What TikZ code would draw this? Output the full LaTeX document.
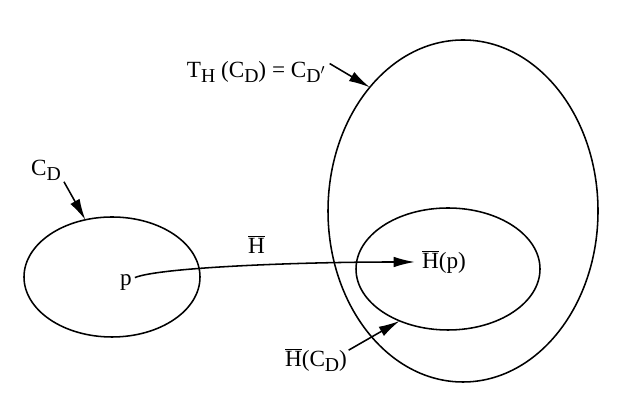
\documentclass[tikz,border=0pt]{standalone}
\usepackage{fontspec}
\setmainfont{Liberation Serif}
\usepackage{tikz}
\usetikzlibrary{shapes}
\usetikzlibrary{arrows.meta}

\newcommand{\lowsub}[1]{\raisebox{-0.45ex}{\scalebox{0.85}{#1}}}
\newcommand{\Hb}{$\overline{\hbox{H}}$}

\tikzset{
  set/.style={draw, ellipse, line width=1.1pt, inner sep=0pt, outer sep=0pt},
  lbl/.style={font=\fontsize{16.5}{19}\selectfont, inner sep=1pt},
  tip/.style={line width=1.1pt, -{Latex[length=15pt, width=7.5pt]}}
}

\begin{document}
\begin{tikzpicture}
\useasboundingbox (0,0) rectangle (16,10);
% the sets
\node[set, minimum width=4.4cm, minimum height=3.0cm] (CD) at (2.8,3.075) {};
\node[set, minimum width=6.75cm, minimum height=8.55cm] (CDp) at (11.575,4.725) {};
\node[set, minimum width=4.6cm, minimum height=3.05cm] (HCD) at (11.2,3.275) {};
% labels
\node[lbl] (lCD) at (1.15,5.75) {C\lowsub{D}};
\node[lbl] (lT) at (6.4,8.2) {T\lowsub{H} (C\lowsub{D}) = C\lowsub{D$'$}};
\node[lbl] (lHCD) at (7.9,1.0) {\Hb(C\lowsub{D})};
\node[lbl] (p) at (3.15,2.925) {p};
\node[lbl] (Hp) at (11.1,3.45) {\Hb(p)};
% arrows
\draw[tip] ([xshift=1pt]lCD.south east) -- (CD.115);
\draw[tip] ([xshift=2pt,yshift=6pt]lT.east) -- (CDp.127);
\draw[tip] ([yshift=7pt]lHCD.east) -- (HCD.227);
\draw[tip] ([xshift=1pt,yshift=-3pt]p.north east) .. controls +(0.6,0.25) and +(-3,0) .. ([xshift=-4pt]Hp.west)
  node[lbl, pos=0.555, above=7pt] {\Hb};
\end{tikzpicture}
\end{document}
